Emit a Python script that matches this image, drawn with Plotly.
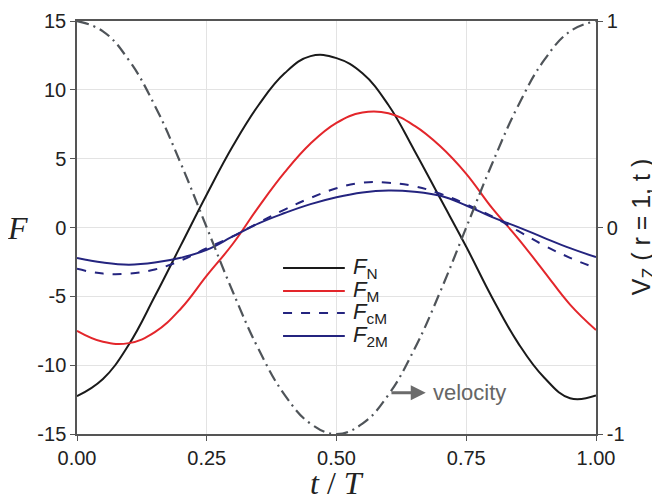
import plotly.graph_objects as go

# t / T sample points
t = [0.00, 0.05, 0.10, 0.15, 0.20, 0.25, 0.30, 0.35, 0.40, 0.45, 0.50,
     0.55, 0.60, 0.65, 0.70, 0.75, 0.80, 0.85, 0.90, 0.95, 1.00]

# forces
f_n = [-12.25, -11.0, -8.5, -5.0, -1.3, 2.4, 5.9, 8.9, 11.2, 12.45, 12.3,
       11.2, 8.9, 5.6, 2.1, -1.4, -5.1, -8.4, -10.9, -12.4, -12.2]
f_m = [-7.5, -8.3, -8.4, -7.6, -5.9, -3.5, -1.2, 1.5, 4.0, 6.1, 7.6,
       8.35, 8.3, 7.4, 5.9, 3.9, 1.4, -0.8, -3.2, -5.6, -7.45]
f_cm = [-3.0, -3.35, -3.35, -3.05, -2.4, -1.5, -0.65, 0.35, 1.3, 2.15, 2.85,
        3.25, 3.25, 3.0, 2.45, 1.7, 0.8, -0.25, -1.3, -2.2, -2.95]
f_2m = [-2.22, -2.55, -2.7, -2.55, -2.2, -1.62, -0.65, 0.3, 1.05, 1.7, 2.2,
        2.55, 2.69, 2.6, 2.3, 1.6, 0.75, 0.03, -0.75, -1.5, -2.15]

# velocity on the right axis
vel = [1.0, 0.95, 0.81, 0.59, 0.31, 0.0, -0.31, -0.59, -0.81, -0.95, -1.0,
       -0.95, -0.81, -0.59, -0.31, 0.0, 0.31, 0.59, 0.81, 0.95, 1.0]

x_ticks = [0, 0.25, 0.5, 0.75, 1.0]
x_ticktext = ['0.00', '0.25', '0.50', '0.75', '1.00']
y_ticks = [-15, -10, -5, 0, 5, 10, 15]
y_ticktext = ['-15', '-10', '-5', '0', '5', '10', '15']
y2_ticks = [-1, 0, 1]
y2_ticktext = ['-1', '0', '1']

names = ['N', 'M', 'cM', '2M']
colors = ['#1a1a1a', '#e3262b', '#24247f', '#24247f']
dashes = ['solid', 'solid', 'dash', 'solid']
series = [f_n, f_m, f_cm, f_2m]

fig = go.Figure()

for name, col, dsh, ys in zip(names, colors, dashes, series):
    fig.add_trace(go.Scatter(
        x=t, y=ys, mode='lines', name='F' + name,
        line=dict(color=col, width=2, dash=dsh, shape='spline', smoothing=1.2),
        showlegend=False
    ))

fig.add_trace(go.Scatter(
    x=t, y=vel, mode='lines', name='velocity', yaxis='y2',
    line=dict(color='#4f5459', width=2.2, dash='12px,5px,2px,5px',
              shape='spline', smoothing=1.2),
    showlegend=False
))

axis_col = '#555555'
tick_font = dict(family='Liberation Sans, Arial', size=20, color='#222222')

fig.update_layout(
    width=660,
    height=500,
    margin=dict(l=69, r=72, t=13, b=74),
    plot_bgcolor='white',
    paper_bgcolor='white',
    xaxis=dict(
        range=[0, 1], tickvals=x_ticks, ticktext=x_ticktext,
        showgrid=True, gridcolor='#e3e3e3', gridwidth=1,
        showline=True, linecolor=axis_col, linewidth=1.5, mirror=True,
        ticks='outside', ticklen=5, tickcolor=axis_col,
        tickfont=tick_font, zeroline=False, automargin=False
    ),
    yaxis=dict(
        range=[-15, 15], tickvals=y_ticks, ticktext=y_ticktext,
        showgrid=True, gridcolor='#e3e3e3', gridwidth=1,
        showline=True, linecolor=axis_col, linewidth=1.5,
        ticks='outside', ticklen=5, tickcolor=axis_col,
        tickfont=tick_font, zeroline=False, automargin=False
    ),
    yaxis2=dict(
        range=[-1, 1], tickvals=y2_ticks, ticktext=y2_ticktext,
        overlaying='y', side='right', showgrid=False,
        showline=True, linecolor=axis_col, linewidth=1.5,
        ticks='outside', ticklen=5, tickcolor=axis_col,
        tickfont=tick_font, zeroline=False, automargin=False
    ),
)

# hand-made legend, lines longer than plotly's own
leg_y = [0.402, 0.346, 0.293, 0.237]
for name, col, dsh, yy in zip(names, colors, dashes, leg_y):
    fig.add_shape(type='line', xref='paper', yref='paper',
                  x0=0.397, x1=0.516, y0=yy, y1=yy,
                  line=dict(color=col, width=2, dash=dsh))
    fig.add_annotation(xref='paper', yref='paper', x=0.528, y=yy,
                       xanchor='left', yanchor='middle', showarrow=False,
                       text='<i>F</i><sub>' + name + '</sub>',
                       font=dict(family='Liberation Sans, Arial', size=22, color='#222222'))

# axis titles
serif = 'Liberation Serif, Times New Roman'
fig.add_annotation(xref='paper', yref='paper', x=-0.114, y=0.5,
                   xanchor='center', yanchor='middle',
                   showarrow=False, text='<i>F</i>',
                   font=dict(family=serif, size=32, color='#222222'))
fig.add_annotation(xref='paper', yref='paper', x=0.5, y=-0.118,
                   xanchor='center', yanchor='middle',
                   showarrow=False, text='<i>t</i> / <i>T</i>',
                   font=dict(family=serif, size=32, color='#222222'))
fig.add_annotation(xref='paper', yref='paper', x=1.09, y=0.5,
                   xanchor='center', yanchor='middle',
                   showarrow=False, textangle=-90,
                   text='V<sub>Z</sub> ( r = 1, t )',
                   font=dict(family='Liberation Sans, Arial', size=25, color='#222222'))

# velocity marker
fig.add_annotation(x=0.672, y=-12.0, ax=0.603, ay=-12.0, axref='x', ayref='y',
                   text='', showarrow=True, arrowhead=2, arrowsize=1,
                   arrowwidth=3, arrowcolor='#6b6b6b')
fig.add_annotation(x=0.682, y=-12.0, xanchor='left', yanchor='middle',
                   showarrow=False, text='velocity',
                   font=dict(family='Liberation Sans, Arial', size=22, color='#666666'))

fig.write_html("out.html")
